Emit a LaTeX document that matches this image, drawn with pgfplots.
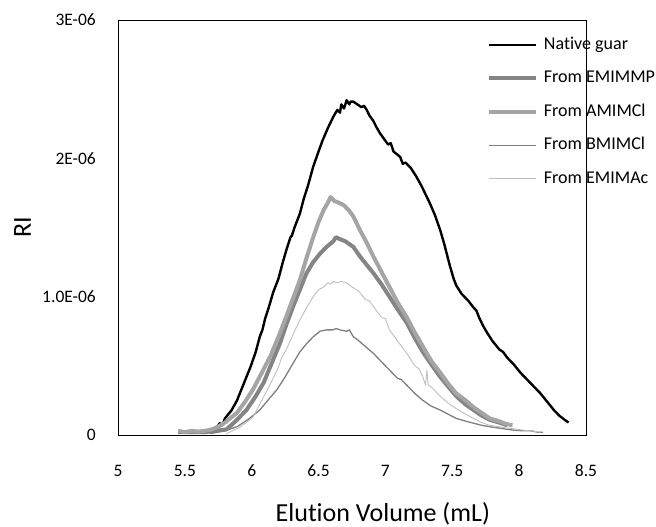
\documentclass[border=0pt]{standalone}
\usepackage{pgfplots}
\pgfplotsset{compat=1.18}
\usepackage{fontspec}
\setmainfont{Carlito}[Ligatures=NoCommon]
\definecolor{cEMIMMP}{HTML}{858585}
\definecolor{cAMIMCl}{HTML}{A5A5A5}
\definecolor{cBMIMCl}{HTML}{7F7F7F}
\definecolor{cEMIMAc}{HTML}{BFBFBF}
\begin{document}
\begin{tikzpicture}
\path[use as bounding box] (0,0) rectangle (656pt,527pt);
\begin{axis}[
  at={(118pt,92pt)}, anchor=south west,
  scale only axis, width=468pt, height=415pt,
  xmin=5, xmax=8.5, ymin=0, ymax=3,
  xtick={5,5.5,6,6.5,7,7.5,8,8.5},
  xticklabels={5,5.5,6,6.5,7,7.5,8,8.5},
  ytick={0,1,2,3},
  yticklabels={0,1.0E-06,2E-06,3E-06},
  scaled ticks=false,
  major tick length=0pt,
  tick label style={font=\fontsize{17.5}{21}\selectfont},
  /pgf/number format/assume math mode=true,
  xticklabel style={anchor=center, inner sep=0pt, yshift=-36pt},
  yticklabel style={anchor=east, inner sep=0pt, xshift=-22pt},
  axis line style={line width=0.8pt},
  xlabel={Elution Volume (mL)},
  ylabel={RI},
  label style={font=\fontsize{26}{30}\selectfont},
  xlabel style={at={(axis description cs:0.566,0)}, anchor=base, yshift=-87pt, inner sep=0pt},
  ylabel style={at={(axis description cs:-0.204,0.5)}, anchor=center, inner sep=0pt},
  legend image code/.code={\draw[#1] (0pt,0pt) -- (47pt,0pt);},
  legend cell align=left,
  legend style={at={(axis description cs:0.788,0.961)}, anchor=north west,
    draw=none, fill=none, inner sep=0pt,
    font=\fontsize{18}{21}\selectfont,
    nodes={inner sep=0pt, text height=13pt, text depth=4pt},
    row sep=16.5pt,
    /tikz/every odd column/.append style={column sep=6pt}},
  every axis plot/.append style={line join=round},
]
% values of RI in units of 1E-06
\addplot[black, line width=2.4pt] coordinates {
(5.74,0.05)(5.76,0.085)(5.78,0.07)(5.80,0.12)(5.85,0.18)(5.89,0.25)(5.94,0.37)(5.99,0.49)
(6.03,0.60)(6.06,0.71)(6.08,0.76)(6.10,0.84)(6.13,0.93)(6.16,1.03)(6.18,1.08)(6.20,1.13)(6.23,1.24)
(6.26,1.34)(6.29,1.43)(6.30,1.44)(6.32,1.50)(6.36,1.60)(6.39,1.71)(6.42,1.80)(6.46,1.94)
(6.50,2.05)(6.53,2.13)(6.57,2.22)(6.61,2.30)(6.64,2.35)(6.66,2.33)(6.67,2.39)(6.69,2.36)
(6.71,2.42)(6.73,2.39)(6.74,2.41)(6.76,2.41)(6.79,2.39)(6.82,2.37)(6.84,2.38)(6.86,2.35)
(6.88,2.31)(6.91,2.27)(6.93,2.23)(6.96,2.18)(6.99,2.14)(7.02,2.10)(7.04,2.11)(7.06,2.05)
(7.11,2.01)(7.13,1.96)(7.15,1.97)(7.19,1.93)(7.23,1.87)(7.27,1.80)(7.30,1.74)(7.33,1.68)
(7.37,1.59)(7.41,1.48)(7.44,1.38)(7.48,1.23)(7.51,1.13)(7.53,1.08)(7.57,1.02)(7.62,0.97)
(7.66,0.92)(7.68,0.90)(7.70,0.85)(7.73,0.79)(7.76,0.74)(7.80,0.68)(7.85,0.62)(7.88,0.60)
(7.91,0.56)(7.96,0.51)(8.01,0.45)(8.06,0.40)(8.11,0.35)(8.16,0.30)(8.21,0.24)(8.26,0.18)
(8.30,0.14)(8.34,0.11)(8.37,0.09)
};
\addlegendentry{Native guar}
\addplot[cEMIMMP, line width=4pt] coordinates {
(5.45,0.02)(5.55,0.02)(5.65,0.02)(5.72,0.03)(5.81,0.04)(5.88,0.10)(5.96,0.18)(6.03,0.28)
(6.09,0.38)(6.15,0.52)(6.21,0.66)(6.26,0.80)(6.31,0.93)(6.36,1.05)(6.41,1.17)(6.46,1.25)
(6.51,1.31)(6.56,1.36)(6.61,1.40)(6.63,1.43)(6.65,1.42)(6.70,1.40)(6.76,1.36)(6.81,1.29)
(6.86,1.23)(6.91,1.17)(6.97,1.09)(7.03,1.00)(7.09,0.91)(7.16,0.81)(7.22,0.70)(7.28,0.60)
(7.35,0.50)(7.41,0.42)(7.47,0.35)(7.53,0.28)(7.60,0.22)(7.66,0.18)(7.72,0.14)(7.78,0.11)
(7.85,0.09)(7.91,0.07)
};
\addlegendentry{From EMIMMP}
\addplot[cAMIMCl, line width=4pt] coordinates {
(5.45,0.03)(5.50,0.02)(5.55,0.03)(5.60,0.025)(5.65,0.03)(5.70,0.04)(5.75,0.06)(5.80,0.09)
(5.85,0.13)(5.89,0.16)(5.95,0.24)(6.01,0.33)(6.07,0.44)(6.14,0.57)(6.20,0.71)(6.26,0.86)
(6.31,0.99)(6.36,1.12)(6.41,1.28)(6.46,1.43)(6.50,1.54)(6.54,1.63)(6.57,1.68)(6.59,1.72)
(6.62,1.69)(6.65,1.68)(6.69,1.66)(6.73,1.62)(6.76,1.58)(6.81,1.48)(6.86,1.39)(6.91,1.29)
(6.97,1.18)(7.03,1.07)(7.09,0.96)(7.16,0.85)(7.22,0.74)(7.28,0.64)(7.34,0.54)(7.41,0.45)
(7.47,0.37)(7.53,0.30)(7.60,0.25)(7.66,0.20)(7.72,0.16)(7.78,0.12)(7.85,0.10)(7.90,0.08)
(7.95,0.07)
};
\addlegendentry{From AMIMCl}
\addplot[cBMIMCl, line width=1.3pt] coordinates {
(5.69,0.01)(5.80,0.03)(5.89,0.06)(5.97,0.11)(6.06,0.18)(6.12,0.25)(6.19,0.33)(6.25,0.42)
(6.31,0.52)(6.36,0.60)(6.41,0.66)(6.46,0.71)(6.51,0.75)(6.56,0.76)(6.61,0.76)(6.63,0.77)
(6.66,0.76)(6.71,0.75)(6.73,0.76)(6.76,0.71)(6.79,0.69)(6.85,0.64)(6.91,0.59)(6.97,0.53)
(7.03,0.47)(7.09,0.41)(7.12,0.40)(7.16,0.36)(7.22,0.30)(7.28,0.25)(7.34,0.21)(7.41,0.18)
(7.45,0.16)(7.47,0.15)(7.53,0.12)(7.60,0.10)(7.66,0.085)(7.72,0.07)(7.78,0.06)(7.85,0.05)
(7.92,0.04)(7.96,0.035)(8.03,0.03)(8.09,0.03)(8.14,0.02)(8.18,0.02)
};
\addlegendentry{From BMIMCl}
\addplot[cEMIMAc, line width=0.9pt] coordinates {
(5.81,0.01)(5.90,0.05)(5.96,0.09)(6.01,0.13)(6.07,0.24)(6.14,0.37)(6.20,0.49)(6.22,0.55)
(6.26,0.62)(6.31,0.73)(6.36,0.83)(6.41,0.92)(6.46,1.00)(6.50,1.05)(6.54,1.07)(6.57,1.10)
(6.59,1.09)(6.61,1.11)(6.64,1.10)(6.67,1.11)(6.71,1.10)(6.75,1.07)(6.80,1.04)(6.85,0.98)
(6.88,0.97)(6.91,0.93)(6.97,0.85)(7.00,0.84)(7.03,0.76)(7.09,0.68)(7.16,0.59)(7.22,0.50)
(7.25,0.48)(7.28,0.42)(7.30,0.36)(7.31,0.47)(7.32,0.36)(7.34,0.35)(7.41,0.28)(7.47,0.23)
(7.53,0.19)(7.60,0.15)(7.66,0.12)(7.72,0.09)(7.78,0.07)(7.85,0.06)(7.91,0.05)(7.96,0.045)
(8.03,0.035)(8.09,0.03)(8.16,0.02)
};
\addlegendentry{From EMIMAc}
\draw[color=gray, line width=0.9pt] (rel axis cs:0,0) -- (rel axis cs:1,0);
\end{axis}
\end{tikzpicture}
\end{document}
